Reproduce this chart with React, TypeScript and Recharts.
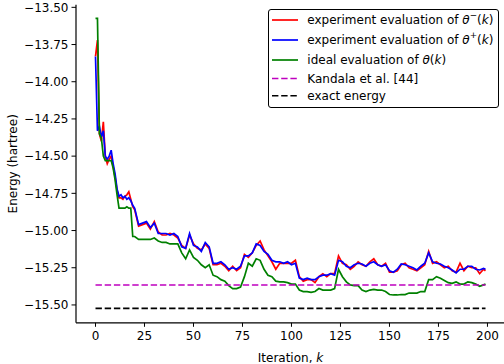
import React from 'react';
import { LineChart, Line, XAxis, YAxis, Legend } from 'recharts';

const ITER = [
  0, 1, 2, 3, 4, 5, 6, 7, 8, 9, 10, 11, 12, 13, 14, 15, 16, 17, 18, 19,
  20, 22, 24, 26, 28, 30, 32, 34, 36, 38, 40, 42, 44, 46, 48, 50, 52, 54, 56, 58,
  60, 62, 64, 66, 68, 70, 72, 74, 76, 78, 80, 82, 84, 86, 88, 90, 92, 94, 96, 98,
  100, 102, 104, 106, 108, 110, 112, 114, 116, 118, 120, 122, 124, 126, 128, 130, 132, 134, 136, 138,
  140, 142, 144, 146, 148, 150, 152, 154, 156, 158, 160, 162, 164, 166, 168, 170, 172, 174, 176, 178,
  180, 182, 184, 186, 188, 190, 192, 194, 196, 198, 199,
];

const THETA_MINUS = [
  -13.83, -13.72, -14.35, -14.40, -14.27, -14.50, -14.55, -14.52, -14.50, -14.57, -14.64, -14.73, -14.78, -14.78, -14.79, -14.77, -14.76, -14.74, -14.79, -14.84,
  -14.86, -14.97, -14.96, -14.95, -14.99, -14.94, -15.01, -15.03, -15.03, -15.02, -15.03, -15.05, -15.10, -15.12, -15.03, -15.09, -15.12, -15.13, -15.09, -15.12,
  -15.23, -15.23, -15.22, -15.24, -15.27, -15.24, -15.27, -15.25, -15.16, -15.18, -15.15, -15.10, -15.07, -15.13, -15.17, -15.21, -15.26, -15.22, -15.22, -15.22,
  -15.22, -15.20, -15.31, -15.34, -15.33, -15.33, -15.35, -15.31, -15.29, -15.31, -15.29, -15.29, -15.17, -15.22, -15.23, -15.26, -15.24, -15.21, -15.23, -15.24,
  -15.21, -15.19, -15.23, -15.24, -15.22, -15.28, -15.28, -15.27, -15.23, -15.22, -15.25, -15.26, -15.27, -15.25, -15.23, -15.14, -15.22, -15.21, -15.23, -15.25,
  -15.24, -15.27, -15.28, -15.22, -15.27, -15.24, -15.25, -15.25, -15.29, -15.26, -15.27,
];

const THETA_PLUS = [
  -13.83, -14.33, -14.30, -14.37, -14.33, -14.50, -14.52, -14.50, -14.46, -14.55, -14.62, -14.72, -14.77, -14.76, -14.78, -14.77, -14.79, -14.78, -14.80, -14.83,
  -14.85, -14.96, -14.95, -14.94, -14.98, -14.95, -15.02, -15.02, -15.02, -15.03, -15.02, -15.04, -15.11, -15.12, -15.02, -15.10, -15.11, -15.14, -15.08, -15.11,
  -15.22, -15.22, -15.21, -15.23, -15.26, -15.25, -15.26, -15.24, -15.17, -15.17, -15.15, -15.09, -15.10, -15.14, -15.16, -15.20, -15.21, -15.21, -15.22, -15.21,
  -15.23, -15.22, -15.32, -15.33, -15.32, -15.33, -15.33, -15.31, -15.30, -15.30, -15.29, -15.30, -15.20, -15.21, -15.24, -15.25, -15.23, -15.22, -15.225, -15.24,
  -15.22, -15.21, -15.23, -15.24, -15.23, -15.27, -15.28, -15.26, -15.225, -15.23, -15.24, -15.25, -15.265, -15.24, -15.22, -15.15, -15.21, -15.22, -15.225, -15.24,
  -15.25, -15.265, -15.285, -15.26, -15.26, -15.24, -15.24, -15.26, -15.265, -15.255, -15.26,
];

const THETA_IDEAL = [
  -13.574, -13.574, -14.35, -14.38, -14.50, -14.53, -14.53, -14.53, -14.53, -14.58, -14.66, -14.76, -14.85, -14.85, -14.85, -14.85, -14.84, -14.85, -14.85, -15.04,
  -15.04, -15.06, -15.06, -15.06, -15.06, -15.05, -15.07, -15.08, -15.08, -15.09, -15.09, -15.09, -15.15, -15.19, -15.13, -15.18, -15.20, -15.23, -15.25, -15.23,
  -15.30, -15.31, -15.33, -15.34, -15.37, -15.39, -15.39, -15.38, -15.31, -15.22, -15.24, -15.19, -15.20, -15.26, -15.30, -15.31, -15.34, -15.345, -15.345, -15.35,
  -15.36, -15.36, -15.40, -15.41, -15.41, -15.415, -15.41, -15.39, -15.40, -15.40, -15.40, -15.39, -15.26, -15.31, -15.345, -15.365, -15.37, -15.37, -15.40, -15.41,
  -15.40, -15.395, -15.40, -15.40, -15.41, -15.43, -15.433, -15.433, -15.43, -15.43, -15.42, -15.42, -15.42, -15.41, -15.41, -15.33, -15.33, -15.31, -15.32, -15.335,
  -15.35, -15.355, -15.345, -15.36, -15.36, -15.345, -15.35, -15.36, -15.375, -15.365, -15.36,
];

const KANDALA = -15.366;
const EXACT = -15.523;

const X_TICKS = [0, 25, 50, 75, 100, 125, 150, 175, 200];
const Y_TICKS = [-15.5, -15.25, -15.0, -14.75, -14.5, -14.25, -14.0, -13.75, -13.5];

const data = ITER.map((k, i) => ({
  k,
  minus: THETA_MINUS[i],
  plus: THETA_PLUS[i],
  ideal: THETA_IDEAL[i],
  kandala: KANDALA,
  exact: EXACT,
}));

const FONT = '"DejaVu Sans", sans-serif';
const FS = 12;

const fmtY = (v: number) => {
  const s = Math.abs(v).toFixed(2);
  return v < 0 ? '\u2212' + s : s;
};

const supStyle: React.CSSProperties = { fontSize: 8.8, verticalAlign: 'top', position: 'relative', top: -3 };

const legendRows = [
  { color: '#ff0000', dash: false, h: 20, label: (<span>experiment evaluation of <i>θ</i><sup style={supStyle}>−</sup>(<i>k</i>)</span>) },
  { color: '#0000ff', dash: false, h: 20, label: (<span>experiment evaluation of <i>θ</i><sup style={supStyle}>+</sup>(<i>k</i>)</span>) },
  { color: '#008000', dash: false, h: 20, label: (<span>ideal evaluation of <i>θ</i>(<i>k</i>)</span>) },
  { color: '#bf00bf', dash: true, h: 17, label: (<span>Kandala et al. [44]</span>) },
  { color: '#000000', dash: true, h: 17.5, label: (<span>exact energy</span>) },
];

const LegendBox = () => (
  <div
    style={{
      width: 229,
      height: 97,
      border: '1.2px solid #000',
      borderRadius: 3,
      background: '#fff',
      boxSizing: 'content-box',
      fontFamily: FONT,
      fontSize: FS,
      color: '#000',
      paddingTop: 0.5,
    }}
  >
    {legendRows.map((r, i) => (
      <div key={i} style={{ height: r.h, display: 'flex', alignItems: 'center', whiteSpace: 'nowrap', lineHeight: 1 }}>
        <svg width={38} height={r.h} style={{ flex: 'none' }}>
          <line
            x1={3}
            x2={29}
            y1={r.h / 2}
            y2={r.h / 2}
            stroke={r.color}
            strokeWidth={1.7}
            strokeDasharray={r.dash ? '6.4 2.8' : undefined}
          />
        </svg>
        {r.label}
      </div>
    ))}
  </div>
);

export default function App() {
  return (
    <div style={{ position: 'absolute', left: 0, top: 0, width: 504, height: 364, overflow: 'hidden', background: '#fff' }}>
      <LineChart
        width={510}
        height={364}
        data={data}
        margin={{ top: 4.8, right: 5, bottom: 11.2, left: 16 }}
      >
        <XAxis
          dataKey="k"
          type="number"
          domain={[-9.95, 208.95]}
          ticks={X_TICKS}
          allowDataOverflow
          height={30}
          tickSize={4}
          tickMargin={5}
          stroke="#000"
          axisLine={{ stroke: '#000', strokeWidth: 1.2 }}
          tickLine={{ stroke: '#000', strokeWidth: 1 }}
          tick={{ fill: '#000', fontSize: FS, fontFamily: FONT }}
          label={(props: any) => {
            const vb = props.viewBox || {};
            return (
              <text
                x={vb.x + vb.width / 2}
                y={vb.y + 38.7}
                textAnchor="middle"
                fontFamily={FONT}
                fontSize={FS}
                fill="#000"
              >
                Iteration, <tspan fontStyle="italic">k</tspan>
              </text>
            );
          }}
        />
        <XAxis
          xAxisId="top"
          orientation="top"
          dataKey="k"
          type="number"
          domain={[-9.95, 208.95]}
          height={0}
          tick={false}
          tickLine={false}
          axisLine={{ stroke: '#000', strokeWidth: 1.2 }}
        />
        <YAxis
          type="number"
          domain={[-15.62, -13.483]}
          ticks={Y_TICKS}
          allowDataOverflow
          width={60}
          tickSize={4.5}
          tickMargin={3}
          tickFormatter={fmtY}
          axisLine={{ stroke: '#000', strokeWidth: 1.2 }}
          tickLine={{ stroke: '#000', strokeWidth: 1 }}
          tick={{ fill: '#000', fontSize: FS, fontFamily: FONT }}
          label={(props: any) => {
            const vb = props.viewBox || {};
            const cx = vb.x - 3;
            const cy = vb.y + vb.height / 2;
            return (
              <text
                x={cx}
                y={cy}
                transform={`rotate(-90 ${cx} ${cy})`}
                textAnchor="middle"
                dominantBaseline="central"
                fontFamily={FONT}
                fontSize={FS}
                fill="#000"
              >
                Energy (hartree)
              </text>
            );
          }}
        />
        <Line dataKey="minus" stroke="#ff0000" strokeWidth={1.7} dot={false} isAnimationActive={false} type="linear" />
        <Line dataKey="plus" stroke="#0000ff" strokeWidth={1.7} dot={false} isAnimationActive={false} type="linear" />
        <Line dataKey="ideal" stroke="#008000" strokeWidth={1.7} dot={false} isAnimationActive={false} type="linear" />
        <Line dataKey="kandala" stroke="#bf00bf" strokeWidth={1.7} strokeDasharray="6.4 2.8" dot={false} isAnimationActive={false} type="linear" />
        <Line dataKey="exact" stroke="#000000" strokeWidth={1.7} strokeDasharray="6.4 2.8" dot={false} isAnimationActive={false} type="linear" />
        <Legend
          layout="horizontal"
          verticalAlign="middle"
          align="center"
          content={() => <LegendBox />}
          wrapperStyle={{ position: 'absolute', left: 268.3, top: 8.8, width: 232, height: 100, margin: 0, padding: 0 }}
        />
      </LineChart>
    </div>
  );
}
